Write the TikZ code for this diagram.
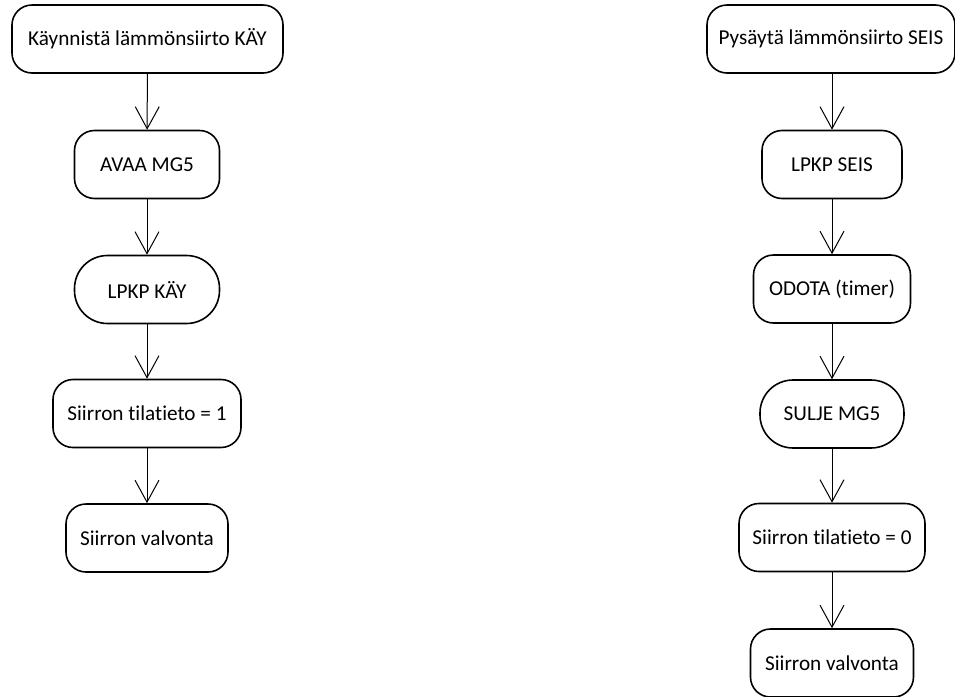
\documentclass[tikz,border=0pt]{standalone}
\usepackage{fontspec}
\setmainfont{Carlito}[Ligatures=NoCommon]
\usetikzlibrary{positioning,arrows.meta}

\begin{document}
\begin{tikzpicture}[x=0.5pt,y=-0.5pt,
  stepbox/.style={draw, line width=0.8pt, rounded corners=10pt, minimum height=34pt, inner sep=0pt, font=\fontsize{10.6}{13}\selectfont},
  pillbox/.style={stepbox, rounded corners=16.5pt},
  flow/.style={line width=0.5pt, -{Straight Barb[length=11pt,width=12pt]}}]
\useasboundingbox (0,0) rectangle (955,697);
% start
\node[stepbox, minimum width=135.5pt] (kay1) at (147.5,39) {Käynnistä lämmönsiirto KÄY};
\node[stepbox, minimum width=72.5pt] (kay2) at (147,164.5) {AVAA MG5};
\node[pillbox, minimum width=72.5pt] (kay3) at (147,289.5) {LPKP KÄY};
\node[stepbox, minimum width=94pt] (kay4) at (147,413.5) {Siirron tilatieto = 1};
\node[stepbox, minimum width=81pt] (kay5) at (147,538) {Siirron valvonta};
\draw[flow] (kay1) -- (kay2);
\draw[flow] (kay2) -- (kay3);
\draw[flow] (kay3) -- (kay4);
\draw[flow] (kay4) -- (kay5);
% stop
\node[stepbox, minimum width=124pt] (seis1) at (831,39) {Pysäytä lämmönsiirto SEIS};
\node[stepbox, minimum width=70pt] (seis2) at (832,164.5) {LPKP SEIS};
\node[stepbox, minimum width=78.5pt] (seis3) at (832,289) {ODOTA (timer)};
\node[pillbox, minimum width=72pt] (seis4) at (832,414) {SULJE MG5};
\node[stepbox, minimum width=93pt] (seis5) at (832,537.5) {Siirron tilatieto = 0};
\node[stepbox, minimum width=81.5pt] (seis6) at (832,663) {Siirron valvonta};
\draw[flow] (seis1.south -| seis2) -- (seis2);
\draw[flow] (seis2) -- (seis3);
\draw[flow] (seis3) -- (seis4);
\draw[flow] (seis4) -- (seis5);
\draw[flow] (seis5) -- (seis6);
\end{tikzpicture}
\end{document}
